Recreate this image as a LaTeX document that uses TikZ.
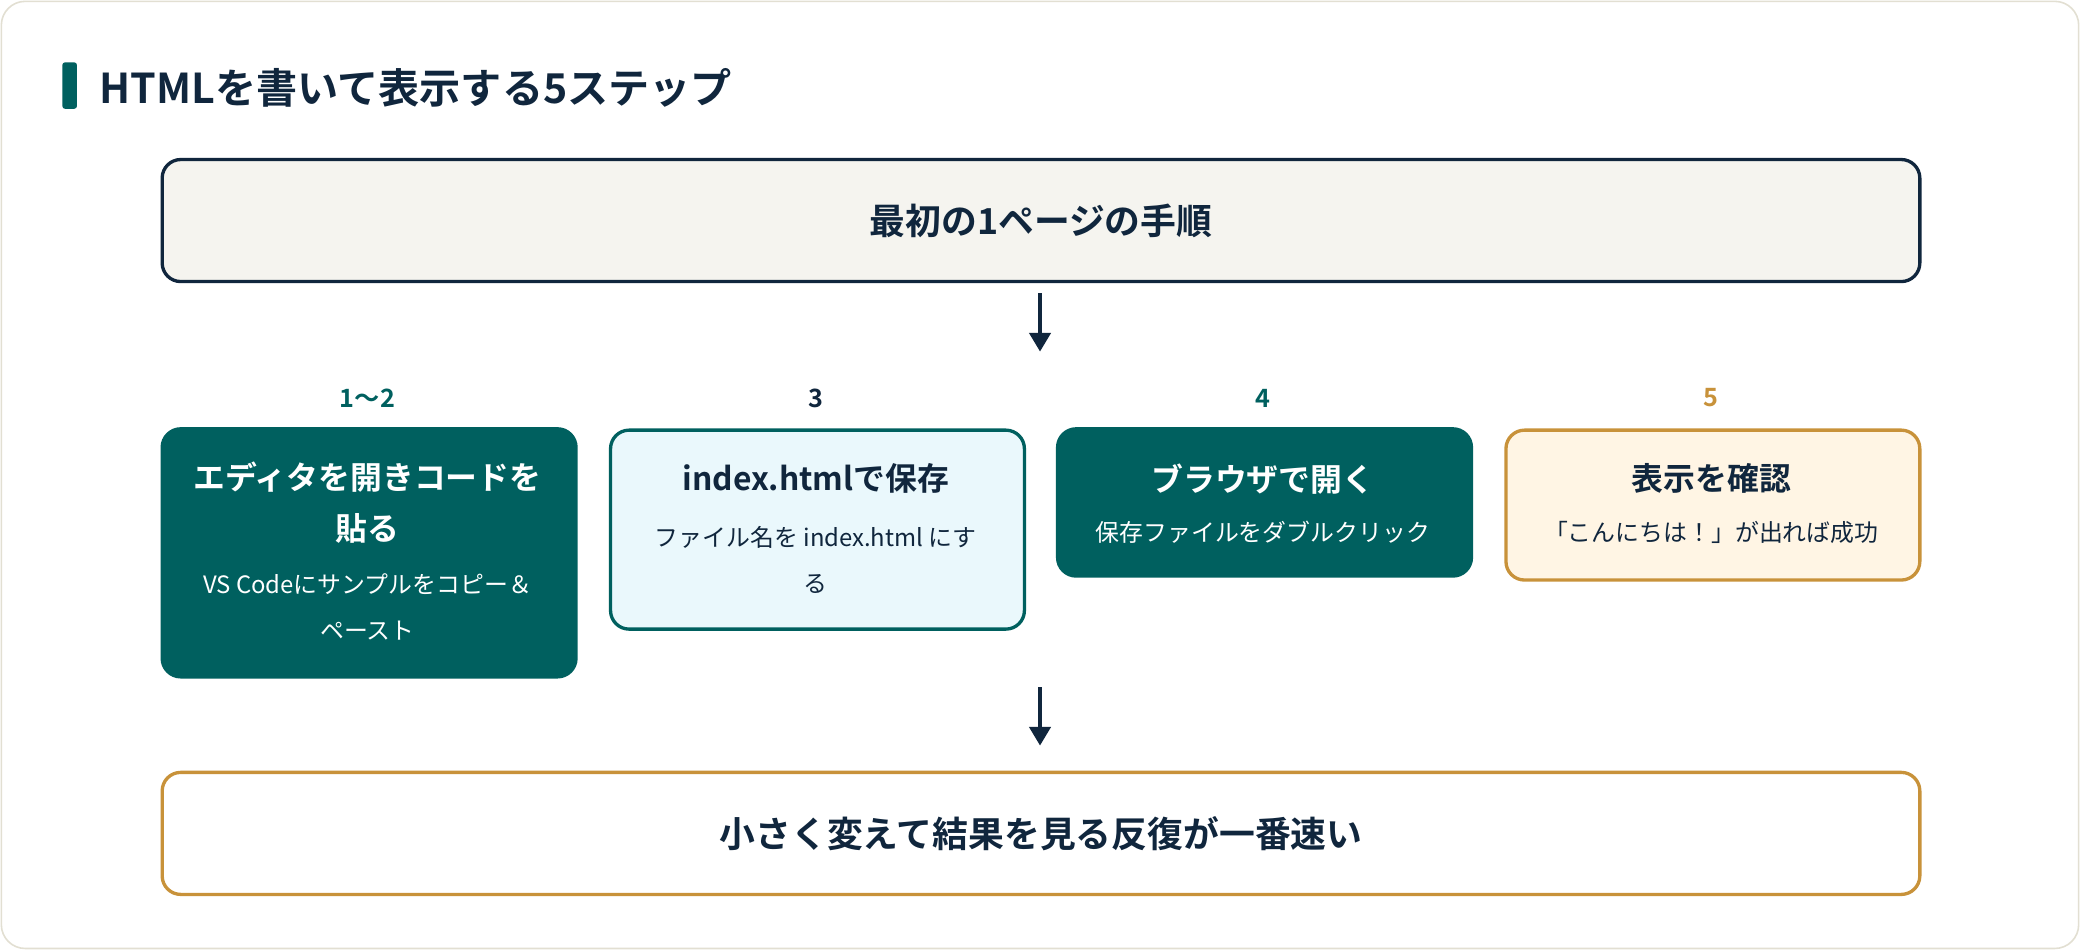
\documentclass[tikz,border=0pt]{standalone}
\usepackage{fontspec}
\setmainfont{Noto Sans CJK JP}
\newfontfamily\jpb{Noto Sans CJK JP Bold}
\usetikzlibrary{arrows.meta}
\definecolor{teal}{HTML}{00605F}
\definecolor{navy}{HTML}{10263D}
\definecolor{gold}{HTML}{C8923A}
\definecolor{cream}{HTML}{F5F4EF}
\definecolor{lblue}{HTML}{EAF8FC}
\definecolor{lyel}{HTML}{FFF5E4}
\definecolor{card}{HTML}{E2DFD2}
\tikzset{
 box/.style={rounded corners=14pt, line width=2.5pt, inner sep=0pt, anchor=north west},
 wide/.style={box, minimum width=1325pt, minimum height=92pt, font=\jpb\fontsize{27}{30}\selectfont, text=navy},
 stepbox/.style={box, minimum width=312pt},
 num/.style={font=\jpb\fontsize{19}{22}\selectfont},
 stt/.style={inner sep=0pt, font=\jpb\fontsize{24}{28}\selectfont},
 sst/.style={inner sep=0pt, font=\fontsize{18}{22}\selectfont},
 arr/.style={navy, line width=2.5pt, -{Triangle[length=14pt,width=16pt]}}
}
\begin{document}
\begin{tikzpicture}[x=1pt,y=-1pt]
\useasboundingbox (0,0) rectangle (1568,716);
\draw[card, line width=1.2pt, fill=white, rounded corners=18pt] (1,1) rectangle (1567,715);
\fill[teal, rounded corners=2pt] (47,47) rectangle (58,82);
\node[anchor=west, text=navy, font=\jpb\fontsize{31}{34}\selectfont, inner sep=0pt] (title) at (75,66) {HTMLを書いて表示する5ステップ};
\node[wide, draw=navy, fill=cream] (top) at (121,119) {最初の1ページの手順};
\coordinate (a1s) at (784,221); \coordinate (a1e) at (784,265);
\draw[arr] (a1s) -- (a1e);
\node[num, text=teal] (n1) at (277,300) {1〜2};
\node[num, text=navy] (n2) at (615,300) {3};
\node[num, text=teal] (n3) at (952,300) {4};
\node[num, text=gold] (n4) at (1290,300) {5};
\node[stepbox, fill=teal, draw=teal, minimum height=187pt] (s1) at (121,322) {};
\node[stt, text=white] (s1a) at (277,360) {エディタを開きコードを};
\node[stt, text=white] (s1b) at (277,398) {貼る};
\node[sst, text=white] (s1c) at (277,440) {VS Codeにサンプルをコピー＆};
\node[sst, text=white] (s1d) at (277,475) {ペースト};
\node[stepbox, fill=lblue, draw=teal, minimum height=150pt] (s2) at (459,323) {};
\node[stt, text=navy] (s2a) at (615,361) {index.htmlで保存};
\node[sst, text=navy] (s2b) at (615,405) {ファイル名を index.html にす};
\node[sst, text=navy] (s2c) at (615,440) {る};
\node[stepbox, fill=teal, draw=teal, minimum height=111pt] (s3) at (796,322) {};
\node[stt, text=white] (s3a) at (952,361) {ブラウザで開く};
\node[sst, text=white] (s3b) at (952,401) {保存ファイルをダブルクリック};
\node[stepbox, fill=lyel, draw=gold, minimum height=113pt] (s4) at (1134,323) {};
\node[stt, text=navy] (s4a) at (1290,361) {表示を確認};
\node[sst, text=navy] (s4b) at (1290,401) {「こんにちは！」が出れば成功};
\coordinate (a2s) at (784,518); \coordinate (a2e) at (784,562);
\draw[arr] (a2s) -- (a2e);
\node[wide, draw=gold, fill=white] (bot) at (121,581) {小さく変えて結果を見る反復が一番速い};
\end{tikzpicture}
\end{document}
